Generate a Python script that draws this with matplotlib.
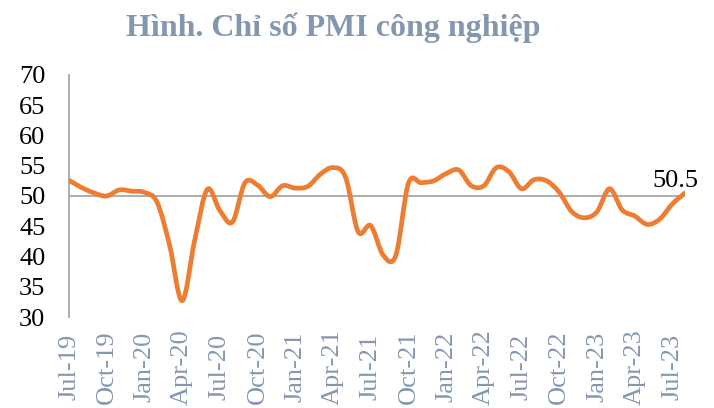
import numpy as np
import matplotlib.pyplot as plt
from matplotlib.path import Path
from matplotlib.patches import PathPatch

plt.rcParams['font.family'] = ['Liberation Serif', 'DejaVu Serif']

# monthly PMI, Jul-19 .. Aug-23
pmi_2019 = [52.6, 51.4, 50.5, 50.0, 51.0, 50.8]
pmi_2020 = [50.6, 49.0, 41.9, 32.7, 42.7, 51.1, 47.6, 45.7, 52.2, 51.8, 49.9, 51.7]
pmi_2021 = [51.3, 51.6, 53.6, 54.7, 53.1, 44.1, 45.1, 40.2, 40.2, 52.1, 52.2, 52.5]
pmi_2022 = [53.7, 54.3, 51.7, 51.7, 54.7, 54.0, 51.2, 52.7, 52.5, 50.6, 47.4, 46.4]
pmi_2023 = [47.4, 51.2, 47.7, 46.7, 45.3, 46.2, 48.7, 50.5]
pmi = pmi_2019 + pmi_2020 + pmi_2021 + pmi_2022 + pmi_2023

tick_labels = ['Jul-19', 'Oct-19', 'Jan-20', 'Apr-20', 'Jul-20', 'Oct-20',
               'Jan-21', 'Apr-21', 'Jul-21', 'Oct-21', 'Jan-22', 'Apr-22',
               'Jul-22', 'Oct-22', 'Jan-23', 'Apr-23', 'Jul-23']

title_color = '#8497B0'
line_color = '#ED7D31'

fig = plt.figure(figsize=(7.14, 4.08), dpi=100)
ax = fig.add_axes([69/714, (408-317)/408, (685-69)/714, (317-75)/408])

x = np.arange(len(pmi))
y = np.array(pmi)

# smoothed line like Excel (Catmull-Rom as cubic Bezier)
verts = [(x[0], y[0])]
codes = [Path.MOVETO]
n = len(x)
for i in range(n - 1):
    p0 = np.array([x[max(i-1, 0)], y[max(i-1, 0)]])
    p1 = np.array([x[i], y[i]])
    p2 = np.array([x[i+1], y[i+1]])
    p3 = np.array([x[min(i+2, n-1)], y[min(i+2, n-1)]])
    c1 = p1 + (p2 - p0) / 6
    c2 = p2 - (p3 - p1) / 6
    verts += [tuple(c1), tuple(c2), tuple(p2)]
    codes += [Path.CURVE4] * 3
ax.add_patch(PathPatch(Path(verts, codes), facecolor='none', edgecolor=line_color,
                       lw=3.4, capstyle='round', joinstyle='round', zorder=3))

ax.axhline(50, color='#A0A0A0', lw=1.2, zorder=2)

ax.set_xlim(0, n - 1)
ax.set_ylim(30, 70)
ax.set_yticks(range(30, 71, 5))
ax.set_xticks(range(0, n, 3))
ax.set_xticklabels(tick_labels, rotation=90, color=title_color, fontsize=19,
                   va='center', ha='center')
ax.tick_params(axis='y', length=0, pad=17, labelsize=19)
ax.tick_params(axis='x', length=0, pad=36)

for s in ['top', 'right', 'bottom']:
    ax.spines[s].set_visible(False)
ax.spines['left'].set_color('#A0A0A0')
ax.spines['left'].set_linewidth(1.2)

ax.annotate('50.5', xy=(x[-1], y[-1]), xytext=(-7, 4), textcoords='offset points',
            ha='center', va='baseline', fontsize=19)

fig.text(333/714, 1 - 28/408, 'Hình. Chỉ số PMI công nghiệp', ha='center', va='center',
         fontsize=23, fontweight='bold', color=title_color)

fig.savefig('out.png', dpi=100)
